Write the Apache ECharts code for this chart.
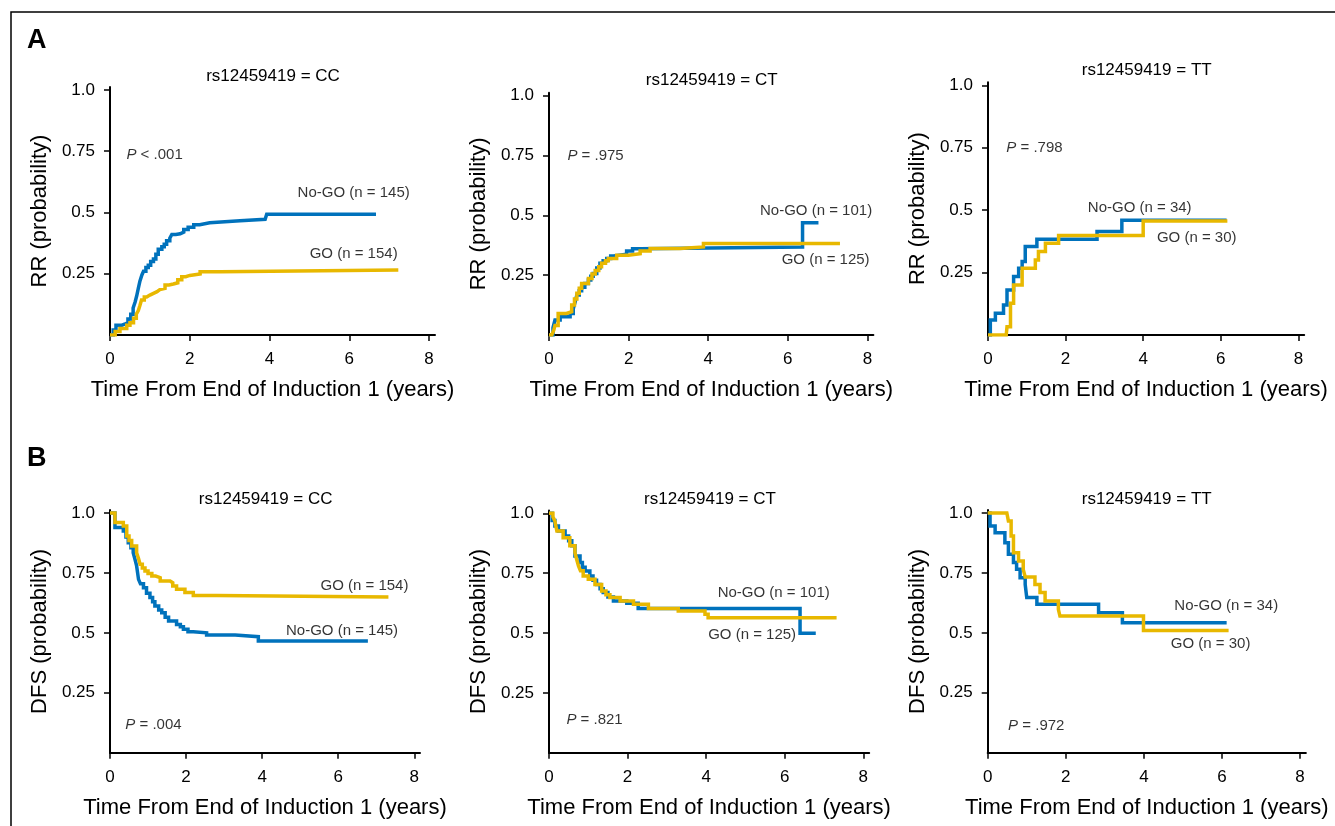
<!DOCTYPE html>
<html>
<head>
<meta charset="utf-8">
<script src="https://cdn.jsdelivr.net/npm/echarts@6/dist/echarts.min.js"></script>
<style>
html,body{margin:0;padding:0;background:#fff;}
#chart{width:1335px;height:826px;}
</style>
</head>
<body>
<div id="chart"></div>
<script>
// ---------- DATA (time in years, probability) ----------
const xTicks = [0, 2, 4, 6, 8];
const yTicks = [0.25, 0.5, 0.75, 1.0];
const panelTitles = ['rs12459419 = CC', 'rs12459419 = CT', 'rs12459419 = TT'];
const xAxisName = 'Time From End of Induction 1 (years)';
const rowNames = ['RR (probability)', 'DFS (probability)'];

// A: relapse risk
const rrCC_noGO = [[0,0],[0.08,0.02],[0.15,0.04],[0.3,0.045],[0.38,0.05],[0.45,0.065],[0.52,0.085],[0.58,0.11],[0.63,0.135],[0.67,0.16],[0.71,0.19],[0.75,0.22],[0.8,0.245],[0.84,0.26],[0.9,0.275],[0.96,0.285],[1.02,0.3],[1.09,0.31],[1.15,0.33],[1.21,0.35],[1.3,0.36],[1.36,0.37],[1.42,0.385],[1.5,0.395],[1.55,0.41],[1.65,0.413],[1.76,0.42],[1.85,0.43],[1.96,0.44],[2.1,0.45],[2.25,0.458],[2.5,0.466],[3.26,0.472],[3.89,0.48],[3.93,0.493],[6.67,0.493]];
const rrCC_GO = [[0,0],[0.13,0.014],[0.25,0.027],[0.42,0.04],[0.5,0.05],[0.59,0.068],[0.66,0.085],[0.71,0.1],[0.75,0.12],[0.79,0.143],[0.86,0.155],[0.92,0.163],[1.0,0.17],[1.09,0.177],[1.18,0.185],[1.25,0.19],[1.38,0.204],[1.48,0.208],[1.59,0.213],[1.7,0.225],[1.8,0.238],[1.9,0.243],[2.0,0.249],[2.26,0.258],[2.76,0.265],[7.23,0.265]];
const rrCT_noGO = [[0,0],[0.1,0.03],[0.15,0.0625],[0.28,0.076],[0.53,0.09],[0.61,0.11],[0.66,0.14],[0.70,0.167],[0.76,0.185],[0.82,0.2],[0.9,0.215],[0.99,0.23],[1.05,0.245],[1.11,0.257],[1.2,0.28],[1.28,0.3],[1.36,0.31],[1.45,0.32],[1.55,0.33],[1.62,0.338],[1.95,0.351],[2.1,0.36],[2.29,0.368],[6.37,0.368],[6.37,0.469],[6.77,0.469]];
const rrCT_GO = [[0,0],[0.07,0],[0.12,0.02],[0.15,0.04],[0.23,0.09],[0.44,0.097],[0.57,0.125],[0.64,0.15],[0.70,0.174],[0.76,0.195],[0.82,0.215],[0.99,0.236],[1.08,0.255],[1.16,0.27],[1.25,0.285],[1.32,0.3],[1.42,0.31],[1.49,0.32],[1.70,0.333],[1.99,0.34],[2.29,0.351],[2.54,0.361],[3.29,0.368],[3.88,0.382],[7.31,0.382]];
const rrTT_noGO = [[0,0],[0.06,0.06],[0.19,0.087],[0.40,0.12],[0.49,0.18],[0.66,0.234],[0.79,0.267],[0.88,0.294],[0.96,0.354],[1.26,0.383],[2.81,0.414],[3.45,0.46],[6.15,0.46]];
const rrTT_GO = [[0,0],[0.47,0],[0.49,0.033],[0.58,0.127],[0.66,0.2],[0.88,0.267],[1.22,0.3],[1.30,0.334],[1.48,0.367],[1.82,0.398],[4.0,0.457],[6.17,0.457]];

// B: disease-free survival
const dfsCC_noGO = [[0,1],[0.13,0.939],[0.35,0.925],[0.42,0.9],[0.48,0.876],[0.55,0.855],[0.61,0.834],[0.66,0.805],[0.70,0.779],[0.75,0.723],[0.8,0.705],[0.88,0.688],[0.96,0.665],[1.05,0.647],[1.12,0.63],[1.18,0.612],[1.28,0.595],[1.36,0.584],[1.45,0.565],[1.54,0.549],[1.75,0.535],[1.85,0.525],[1.93,0.515],[2.05,0.505],[2.19,0.5],[2.54,0.491],[3.29,0.484],[3.90,0.466],[6.78,0.466]];
const dfsCC_GO = [[0,1],[0.13,0.96],[0.35,0.946],[0.44,0.904],[0.5,0.885],[0.57,0.862],[0.7,0.834],[0.75,0.81],[0.79,0.786],[0.85,0.77],[0.92,0.758],[1.0,0.748],[1.10,0.737],[1.2,0.73],[1.32,0.716],[1.58,0.709],[1.65,0.695],[1.75,0.682],[1.97,0.668],[2.19,0.656],[2.81,0.65],[7.32,0.65]];
const dfsCT_noGO = [[0,1],[0.08,0.97],[0.15,0.947],[0.24,0.926],[0.41,0.905],[0.5,0.885],[0.58,0.864],[0.66,0.822],[0.79,0.794],[0.85,0.775],[0.92,0.759],[1.04,0.738],[1.12,0.72],[1.21,0.703],[1.3,0.685],[1.38,0.669],[1.5,0.65],[1.64,0.634],[1.98,0.624],[2.27,0.602],[6.39,0.602],[6.39,0.499],[6.79,0.499]];
const dfsCT_GO = [[0,1],[0.1,0.985],[0.15,0.968],[0.20,0.926],[0.36,0.898],[0.53,0.864],[0.66,0.836],[0.7,0.81],[0.75,0.78],[0.8,0.76],[0.87,0.738],[1.0,0.724],[1.17,0.703],[1.34,0.675],[1.45,0.66],[1.55,0.648],[1.81,0.634],[2.15,0.62],[2.53,0.602],[3.29,0.592],[3.97,0.578],[4.05,0.564],[7.32,0.564]];
const dfsTT_noGO = [[0,1],[0.06,0.946],[0.19,0.918],[0.44,0.876],[0.53,0.828],[0.66,0.793],[0.74,0.765],[0.83,0.73],[0.96,0.702],[1.0,0.647],[1.26,0.619],[2.84,0.584],[3.45,0.542],[6.12,0.542]];
const dfsTT_GO = [[0,1],[0.49,1],[0.53,0.967],[0.60,0.904],[0.66,0.834],[0.79,0.80],[0.91,0.765],[0.96,0.733],[1.21,0.702],[1.34,0.668],[1.47,0.633],[1.81,0.598],[1.85,0.57],[3.99,0.51],[6.17,0.51]];

const pValues = ['< .001', '= .975', '= .798', '= .004', '= .821', '= .972'];
const noGoLabels = ['No-GO (n = 145)', 'No-GO (n = 101)', 'No-GO (n = 34)', 'No-GO (n = 145)', 'No-GO (n = 101)', 'No-GO (n = 34)'];
const goLabels = ['GO (n = 154)', 'GO (n = 125)', 'GO (n = 30)', 'GO (n = 154)', 'GO (n = 125)', 'GO (n = 30)'];

// ---------- LAYOUT (positions, styles) ----------
const FONT = '"Liberation Sans", Arial, Helvetica, sans-serif';
const BLUE = '#0072BC';
const YELLOW = '#E8B800';
const TXT = '#000';
const X_MAX = 8.15, Y_MAX = 1.012;

const grids = [
  {left:110,   top:87,    width:325,   height:248},
  {left:549,   top:92.8,  width:324.4, height:242.2},
  {left:988,   top:82.3,  width:316.2, height:252.7},
  {left:110,   top:510.1, width:310,   height:242.6},
  {left:549,   top:510.4, width:320.2, height:242.3},
  {left:987.7, top:510.1, width:318.2, height:242.6}
];
// annotation anchors in data coordinates: [noGO label, GO label, P label]
const annotAnchors = [
  [[6.11,0.58],[6.11,0.33],[0.40,0.735]],
  [[6.71,0.519],[6.95,0.316],[0.45,0.748]],
  [[3.91,0.509],[5.38,0.39],[0.46,0.75]],
  [[6.10,0.508],[6.69,0.698],[0.39,0.118]],
  [[5.72,0.667],[5.17,0.494],[0.43,0.136]],
  [[6.11,0.612],[5.71,0.456],[0.51,0.114]]
];
const titlePos = [[273,76],[711.7,80.7],[1146.7,70.7],[265.7,499.3],[710,499.3],[1146.7,499.3]];

const curves = [
  [rrCC_noGO, rrCC_GO], [rrCT_noGO, rrCT_GO], [rrTT_noGO, rrTT_GO],
  [dfsCC_noGO, dfsCC_GO], [dfsCT_noGO, dfsCT_GO], [dfsTT_noGO, dfsTT_GO]
];

const xAxes = [], yAxes = [], series = [], graphics = [];
grids.forEach((g, i) => {
  xAxes.push({
    type:'value', gridIndex:i, min:0, max:X_MAX,
    axisLine:{show:true, onZero:false, lineStyle:{color:'#000', width:2}},
    axisTick:{show:true, length:6, customValues:xTicks, lineStyle:{color:'#000', width:1.5}},
    axisLabel:{customValues:xTicks, fontSize:17, color:TXT, margin:16, fontFamily:FONT},
    splitLine:{show:false},
    name:xAxisName, nameLocation:'middle', nameGap:44,
    nameTextStyle:{fontSize:22, color:TXT, fontFamily:FONT}
  });
  yAxes.push({
    type:'value', gridIndex:i, min:0, max:Y_MAX,
    axisLine:{show:true, onZero:false, lineStyle:{color:'#000', width:2}},
    axisTick:{show:true, length:6, customValues:yTicks, lineStyle:{color:'#000', width:1.5}},
    axisLabel:{customValues:yTicks, fontSize:17, color:TXT, margin:15, fontFamily:FONT,
      formatter:v => (v === 1 ? '1.0' : String(v))},
    splitLine:{show:false},
    name:rowNames[i < 3 ? 0 : 1], nameLocation:'middle', nameGap:59,
    nameTextStyle:{fontSize:22, color:TXT, fontFamily:FONT}
  });
  const [noGo, go] = curves[i];
  series.push({
    type:'line', xAxisIndex:i, yAxisIndex:i, data:noGo, step:'end',
    symbol:'none', silent:true, lineStyle:{color:BLUE, width:3.5, join:'miter', cap:'butt'}, z:3
  });
  series.push({
    type:'line', xAxisIndex:i, yAxisIndex:i, data:go, step:'end',
    symbol:'none', silent:true, lineStyle:{color:YELLOW, width:3.5, join:'miter', cap:'butt'}, z:4
  });
  const a = annotAnchors[i];
  const lblBase = {show:true, fontSize:15, color:TXT, fontFamily:FONT};
  series.push({
    type:'scatter', xAxisIndex:i, yAxisIndex:i, silent:true, symbolSize:1,
    itemStyle:{color:'rgba(0,0,0,0)'}, z:5,
    data:[
      {value:a[0], label:Object.assign({}, lblBase, {position:'inside', formatter:noGoLabels[i]})},
      {value:a[1], label:Object.assign({}, lblBase, {position:'inside', formatter:goLabels[i]})},
      {value:a[2], label:Object.assign({}, lblBase, {position:'right', distance:0,
        formatter:'{p|P} ' + pValues[i], rich:{p:{fontStyle:'italic', fontSize:15, color:TXT, fontFamily:FONT}}})}
    ]
  });
  graphics.push({
    type:'text', x:titlePos[i][0], y:titlePos[i][1], silent:true,
    style:{text:panelTitles[i % 3], font:'17px ' + FONT, fill:TXT, textAlign:'center', textVerticalAlign:'middle'}
  });
});

graphics.push({type:'text', x:27, y:41, silent:true,
  style:{text:'A', font:'bold 27px ' + FONT, fill:'#000', textAlign:'left', textVerticalAlign:'middle'}});
graphics.push({type:'text', x:27, y:459, silent:true,
  style:{text:'B', font:'bold 27px ' + FONT, fill:'#000', textAlign:'left', textVerticalAlign:'middle'}});
graphics.push({type:'rect', silent:true, shape:{x:11, y:12, width:1360, height:850},
  style:{fill:'none', stroke:'#000', lineWidth:1.5}});

const chart = echarts.init(document.getElementById('chart'), null, {renderer:'canvas'});
chart.setOption({
  animation:false,
  backgroundColor:'#fff',
  textStyle:{fontFamily:FONT},
  grid:grids.map(g => Object.assign({containLabel:false}, g)),
  xAxis:xAxes,
  yAxis:yAxes,
  series:series,
  graphic:graphics
});
</script>
</body>
</html>
